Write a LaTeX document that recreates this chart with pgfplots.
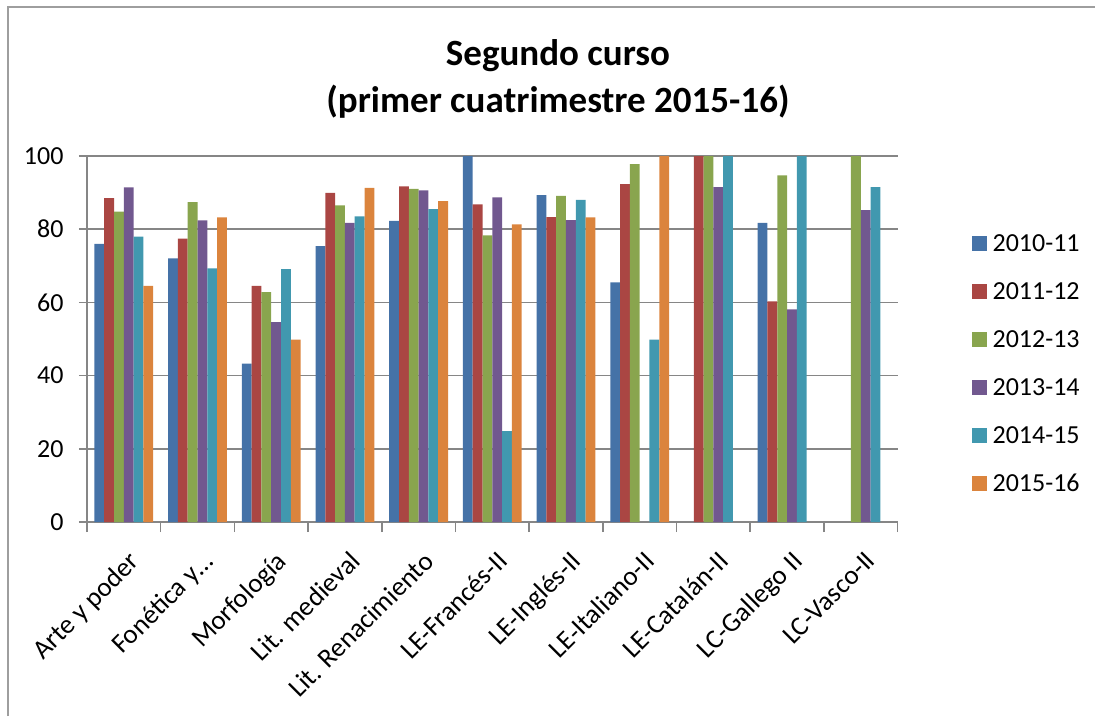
\documentclass[border=0pt]{standalone}
\usepackage{pgfplots}
\pgfplotsset{compat=1.18}
\usepackage{fontspec}
\setmainfont{Carlito}
\definecolor{c1}{HTML}{4572A7}
\definecolor{c2}{HTML}{AA4643}
\definecolor{c3}{HTML}{89A54E}
\definecolor{c4}{HTML}{71588F}
\definecolor{c5}{HTML}{4198AF}
\definecolor{c6}{HTML}{DB843D}
\definecolor{gridc}{HTML}{868686}
\begin{document}
\begin{tikzpicture}[x=1pt,y=1pt]
\useasboundingbox (0,0) rectangle (1095,716);
\draw[gridc!80, line width=2pt] (8,0) -- (8,709) -- (1095,709);
\node[font=\fontsize{37}{47}\selectfont\bfseries, align=center] at (558,637) {Segundo curso\\(primer cuatrimestre 2015-16)};
\begin{axis}[
  at={(87pt,194pt)}, anchor=south west,
  scale only axis, width=810.6pt, height=366pt,
  ybar=0pt, bar width=9.8pt,
  xmin=-0.5, xmax=10.5, ymin=0, ymax=100,
  ytick={0,20,40,60,80,100},
  xtick={0,...,10},
  xticklabels={Arte y poder, Fonética y\ldots, Morfología, Lit. medieval, Lit. Renacimiento, LE-Francés-II, LE-Inglés-II, LE-Italiano-II, LE-Catalán-II, LC-Gallego II, LC-Vasco-II},
  minor xtick={-0.5,0.5,...,10.5},
  major x tick style={draw=none},
  minor x tick style={gridc, line width=1.5pt},
  minor tick length=10pt,
  y tick style={gridc, line width=1.5pt},
  major tick length=8pt,
  tick align=outside, tick pos=lower,
  ymajorgrids, grid style={gridc, line width=1.5pt},
  axis x line*=bottom, axis y line*=left,
  axis line style={gridc, line width=1.5pt, -},
  tick label style={font=\fontsize{26}{30}\selectfont},
  /pgf/number format/assume math mode=true,
  yticklabel style={xshift=-12pt},
  xticklabel style={font=\fontsize{27}{31}\selectfont, rotate=45, anchor=north east, xshift=-8pt, yshift=-13pt},
  legend style={at={(1.091,0.432)}, anchor=west, draw=none, fill=none,
    font=\fontsize{26}{30}\selectfont, row sep=25.5pt, inner sep=0pt},
  legend cell align=left,
  legend image code/.code={\fill[#1] (0pt,-7.5pt) rectangle (15pt,7.5pt); \path (19pt,0pt);},
]
\addplot[fill=c1, draw=none] coordinates {(0,76)(1,72)(2,43.3)(3,75.4)(4,82.3)(5,100)(6,89.3)(7,65.5)(9,81.7)};
\addplot[fill=c2, draw=none] coordinates {(0,88.5)(1,77.4)(2,64.5)(3,89.9)(4,91.7)(5,86.8)(6,83.3)(7,92.3)(8,100)(9,60.3)};
\addplot[fill=c3, draw=none] coordinates {(0,84.8)(1,87.4)(2,62.8)(3,86.5)(4,91.0)(5,78.3)(6,89.1)(7,97.8)(8,100)(9,94.7)(10,100)};
\addplot[fill=c4, draw=none] coordinates {(0,91.4)(1,82.4)(2,54.6)(3,81.7)(4,90.6)(5,88.7)(6,82.5)(8,91.5)(9,58.1)(10,85.2)};
\addplot[fill=c5, draw=none] coordinates {(0,78)(1,69.3)(2,69.1)(3,83.5)(4,85.5)(5,24.8)(6,88.0)(7,49.8)(8,100)(9,100)(10,91.5)};
\addplot[fill=c6, draw=none] coordinates {(0,64.5)(1,83.2)(2,49.8)(3,91.3)(4,87.7)(5,81.3)(6,83.2)(7,100)};
\legend{2010-11,2011-12,2012-13,2013-14,2014-15,2015-16}
\end{axis}
\end{tikzpicture}
\end{document}
